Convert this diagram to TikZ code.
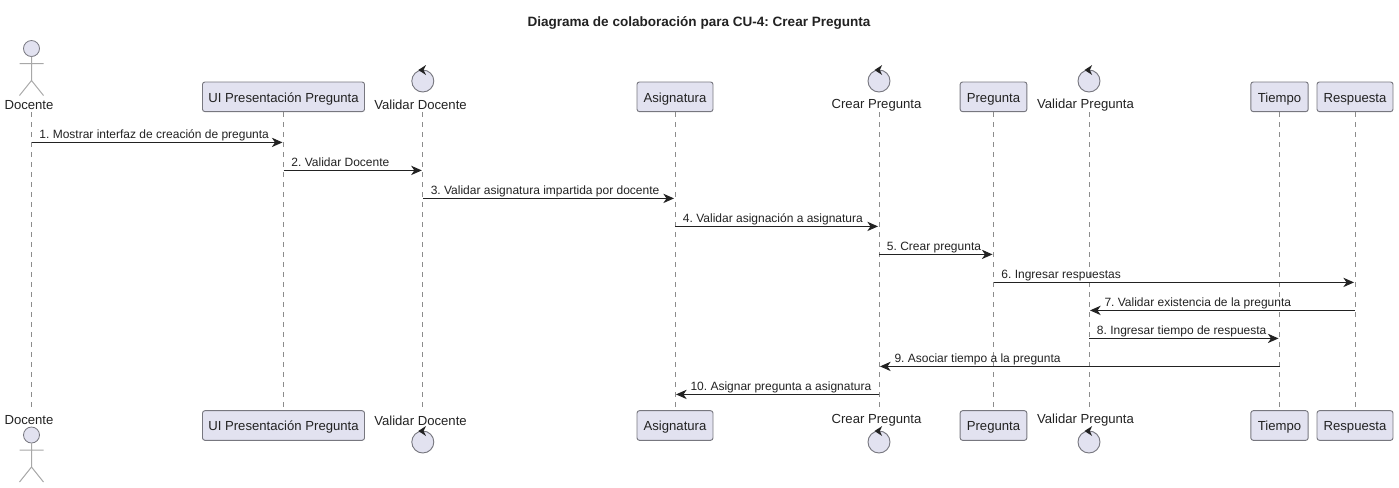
\documentclass[tikz,border=0pt]{standalone}
\usepackage{fontspec}
\setmainfont{Liberation Sans}
\usetikzlibrary{arrows.meta}
\frenchspacing

\definecolor{partfill}{HTML}{E2E2F0}
\definecolor{partline}{HTML}{77777F}
\definecolor{actorline}{HTML}{A8A8A8}
\definecolor{lifegray}{HTML}{8C8C8C}
\definecolor{inkdark}{HTML}{222222}

\tikzset{
    partbox/.style={draw=partline, fill=partfill, line width=0.7pt, rounded corners=1.8pt,
        font=\fontsize{9.85pt}{12pt}\selectfont, text=inkdark, minimum height=22.2pt, inner sep=0pt,
        text height=8pt, text depth=0pt, anchor=center},
    partname/.style={font=\fontsize{9.85pt}{12pt}\selectfont, text=inkdark, inner sep=0pt, anchor=center},
    lifeline/.style={draw=lifegray, line width=0.6pt, dash pattern=on 3.75pt off 3.75pt},
    msg/.style={draw=inkdark, line width=0.75pt, -{Stealth[length=8pt, width=7pt, inset=2.4pt]}, shorten >=0.75pt},
    msglabel/.style={font=\fontsize{9pt}{10pt}\selectfont, text=inkdark, inner sep=0pt, anchor=base west},
    actorfig/.pic={
        \draw[partline, line width=0.6pt, fill=partfill] (0,0) circle (8);
        \draw[actorline, line width=0.75pt] (0,8) -- (0,32) (-12,15) -- (12,15)
            (-12,47) -- (0,32) -- (12,47);
    },
    controlfig/.pic={
        \draw[partline, line width=0.7pt, fill=partfill] (0,0) circle (11);
        \fill[inkdark] (-4.5,-11) -- (3.2,-16) -- (0.8,-11) -- (3.2,-6) -- cycle;
    }
}

\begin{document}
\begin{tikzpicture}[x=0.75pt, y=-0.75pt]
    \useasboundingbox (0,0) rectangle (1399,487);

    \node[font=\bfseries\fontsize{10.15pt}{12pt}\selectfont, text=inkdark, inner sep=0pt] (title) at (699,22.5)
        {Diagrama de colaboración para CU-4: Crear Pregunta};

    % Participants, top row
    \pic at (31.5,48.5) {actorfig};
    \node[partname] (docenteTop) at (29,105) {Docente};
    \node[partbox, minimum width=121.5pt] (uiTop) at (283.5,96.8) {UI Presentación Pregunta};
    \pic at (422.8,81) {controlfig};
    \node[partname] (valDocTop) at (420.5,105) {Validar Docente};
    \node[partbox, minimum width=57pt] (asigTop) at (675,96.8) {Asignatura};
    \pic at (879,81) {controlfig};
    \node[partname] (crearTop) at (876.5,105) {Crear Pregunta};
    \node[partbox, minimum width=50pt] (pregTop) at (993.5,96.8) {Pregunta};
    \pic at (1089,81) {controlfig};
    \node[partname] (valPregTop) at (1085.5,105) {Validar Pregunta};
    \node[partbox, minimum width=43pt] (tiempoTop) at (1279.5,96.8) {Tiempo};
    \node[partbox, minimum width=57pt] (respTop) at (1355,96.8) {Respuesta};

    % Participants, bottom row
    \node[partname] (docenteBot) at (29,420.5) {Docente};
    \pic at (31.5,435) {actorfig};
    \node[partbox, minimum width=121.5pt] (uiBot) at (283.5,425.5) {UI Presentación Pregunta};
    \node[partname] (valDocBot) at (420.5,420.5) {Validar Docente};
    \pic at (422.8,442) {controlfig};
    \node[partbox, minimum width=57pt] (asigBot) at (675,425.5) {Asignatura};
    \node[partname] (crearBot) at (876.5,420.5) {Crear Pregunta};
    \pic at (879,442) {controlfig};
    \node[partbox, minimum width=50pt] (pregBot) at (993.5,425.5) {Pregunta};
    \node[partname] (valPregBot) at (1085.5,420.5) {Validar Pregunta};
    \pic at (1089,442) {controlfig};
    \node[partbox, minimum width=43pt] (tiempoBot) at (1279.5,425.5) {Tiempo};
    \node[partbox, minimum width=57pt] (respBot) at (1355,425.5) {Respuesta};

    % Free ends of the lifelines that hang under a plain name
    \coordinate (docenteA) at (31.5,112);
    \coordinate (docenteZ) at (31.5,412);
    \coordinate (valDocA) at (422.8,112);
    \coordinate (valDocZ) at (422.8,412);
    \coordinate (crearA) at (879,112);
    \coordinate (crearZ) at (879,412);
    \coordinate (valPregA) at (1089,112);
    \coordinate (valPregZ) at (1089,412);

    % Lifelines
    \draw[lifeline] (docenteA) -- (docenteZ);
    \draw[lifeline] (uiTop) -- (uiBot);
    \draw[lifeline] (valDocA) -- (valDocZ);
    \draw[lifeline] (asigTop) -- (asigBot);
    \draw[lifeline] (crearA) -- (crearZ);
    \draw[lifeline] (pregTop) -- (pregBot);
    \draw[lifeline] (valPregA) -- (valPregZ);
    \draw[lifeline] (tiempoTop) -- (tiempoBot);
    \draw[lifeline] (respTop) -- (respBot);

    % Message rows
    \coordinate (row1) at (0,142.4);
    \coordinate (row2) at (0,170.4);
    \coordinate (row3) at (0,198.4);
    \coordinate (row4) at (0,226.4);
    \coordinate (row5) at (0,254.4);
    \coordinate (row6) at (0,282.4);
    \coordinate (row7) at (0,310.4);
    \coordinate (row8) at (0,338.4);
    \coordinate (row9) at (0,366.4);
    \coordinate (row10) at (0,394.4);

    % Messages
    \draw[msg] (docenteA |- row1) -- node[msglabel, pos=0, xshift=5.6pt, yshift=3.3pt] (lab1) {1. Mostrar interfaz de creación de pregunta} (uiTop |- row1);
    \draw[msg] (uiTop |- row2) -- node[msglabel, pos=0, xshift=5.6pt, yshift=3.3pt] (lab2) {2. Validar Docente} (valDocA |- row2);
    \draw[msg] (valDocA |- row3) -- node[msglabel, pos=0, xshift=5.6pt, yshift=3.3pt] (lab3) {3. Validar asignatura impartida por docente} (asigTop |- row3);
    \draw[msg] (asigTop |- row4) -- node[msglabel, pos=0, xshift=5.6pt, yshift=3.3pt] (lab4) {4. Validar asignación a asignatura} (crearA |- row4);
    \draw[msg] (crearA |- row5) -- node[msglabel, pos=0, xshift=5.6pt, yshift=3.3pt] (lab5) {5. Crear pregunta} (pregTop |- row5);
    \draw[msg] (pregTop |- row6) -- node[msglabel, pos=0, xshift=5.6pt, yshift=3.3pt] (lab6) {6. Ingresar respuestas} (respTop |- row6);
    \draw[msg] (respTop |- row7) -- node[msglabel, pos=1, xshift=11.25pt, yshift=3.3pt] (lab7) {7. Validar existencia de la pregunta} (valPregA |- row7);
    \draw[msg] (valPregA |- row8) -- node[msglabel, pos=0, xshift=5.6pt, yshift=3.3pt] (lab8) {8. Ingresar tiempo de respuesta} (tiempoTop |- row8);
    \draw[msg] (tiempoTop |- row9) -- node[msglabel, pos=1, xshift=11.25pt, yshift=3.3pt] (lab9) {9. Asociar tiempo a la pregunta} (crearA |- row9);
    \draw[msg] (crearA |- row10) -- node[msglabel, pos=1, xshift=11.25pt, yshift=3.3pt] (lab10) {10. Asignar pregunta a asignatura} (asigTop |- row10);
\end{tikzpicture}
\end{document}
